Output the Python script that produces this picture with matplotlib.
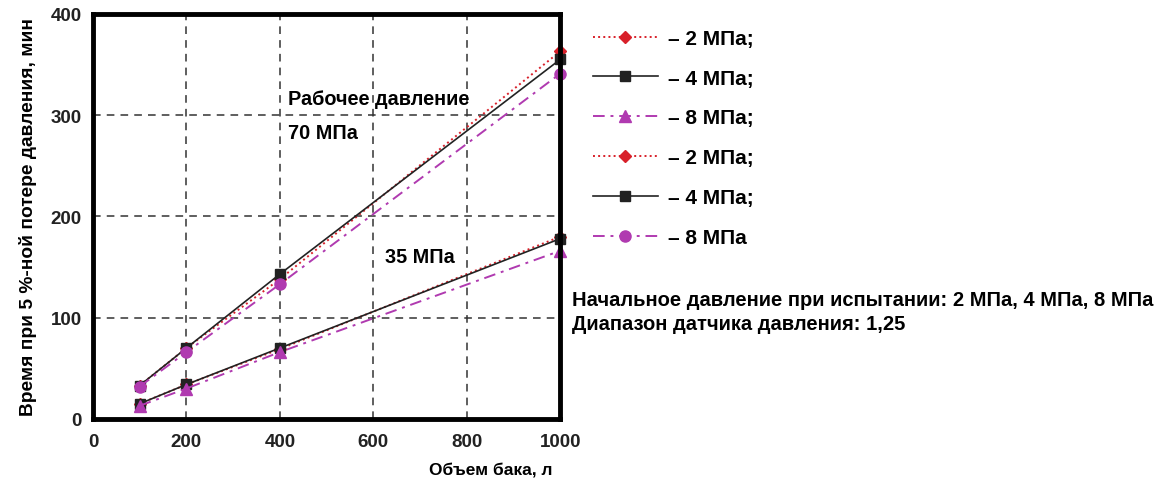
import numpy as np
import matplotlib.pyplot as plt

plt.rcParams['font.family'] = ['Liberation Sans', 'DejaVu Sans']

volume = [100, 200, 400, 1000]

# 35 MPa working pressure
low_2 = [15, 34, 69, 180]
low_4 = [15, 34, 70, 178]
low_8 = [13, 30, 66, 166]
# 70 MPa working pressure
high_2 = [33, 70, 138, 363]
high_4 = [33, 70, 143, 355]
high_8 = [32, 66, 133, 341]

labels = ['– 2 МПа;', '– 4 МПа;', '– 8 МПа;', '– 2 МПа;', '– 4 МПа;', '– 8 МПа']

red = '#d8202a'
mag = '#b03ab0'
blk = '#222222'

fig = plt.figure(figsize=(11.65, 4.81), dpi=100)
ax = fig.add_axes([0.0798, 0.127, 0.401, 0.842])

h = []
h += ax.plot(volume, low_2, ls=':', color=red, marker='D', ms=6, lw=1.4)
h += ax.plot(volume, low_4, ls='-', color=blk, marker='s', ms=7, lw=1.2)
h += ax.plot(volume, low_8, ls='-.', color=mag, marker='^', ms=8, lw=1.4, dashes=(6, 3, 1.5, 3))
h += ax.plot(volume, high_2, ls=':', color=red, marker='D', ms=6, lw=1.4)
h += ax.plot(volume, high_4, ls='-', color=blk, marker='s', ms=7, lw=1.2)
h += ax.plot(volume, high_8, ls='-.', color=mag, marker='o', ms=8, lw=1.4, dashes=(6, 3, 1.5, 3))
for l in h:
    l.set_markeredgecolor(l.get_color())
    l.set_clip_on(False)

ax.set_xlim(0, 1000)
ax.set_ylim(0, 400)
ax.set_xticks([0, 200, 400, 600, 800, 1000])
ax.set_yticks([0, 100, 200, 300, 400])
ax.grid(True, ls=(0, (5, 4)), color='#333333', lw=1.1)
for s in ax.spines.values():
    s.set_linewidth(3.5)
ax.tick_params(length=0, labelsize=13.5)
ax.tick_params(axis='x', pad=10)
ax.tick_params(axis='y', pad=8)
for t in ax.get_xticklabels() + ax.get_yticklabels():
    t.set_fontweight('bold')
    t.set_color('#222222')

ax.set_ylabel('Время при 5 %-ной потере давления, мин', fontsize=13.8, fontweight='bold', labelpad=10)
fig.text(0.421, 0.023, 'Объем бака, л', fontsize=12.5, fontweight='bold', ha='center', va='center')

ax.text(417, 316, 'Рабочее давление', fontsize=14.3, fontweight='bold', va='center')
ax.text(417, 283, '70 МПа', fontsize=14.3, fontweight='bold', va='center')
ax.text(625, 160, '35 МПа', fontsize=14.3, fontweight='bold', va='center')

fig.legend(h, labels, loc='upper left', bbox_to_anchor=(0.493, 0.977), frameon=False,
           handlelength=3.1, handletextpad=0.5, labelspacing=1.0,
           prop={'weight': 'bold', 'size': 15})

fig.text(0.491, 0.376, 'Начальное давление при испытании: 2 МПа, 4 МПа, 8 МПа', fontsize=14.5, fontweight='bold', va='center')
fig.text(0.491, 0.326, 'Диапазон датчика давления: 1,25', fontsize=14.5, fontweight='bold', va='center')

fig.savefig('out.png', dpi=100)
